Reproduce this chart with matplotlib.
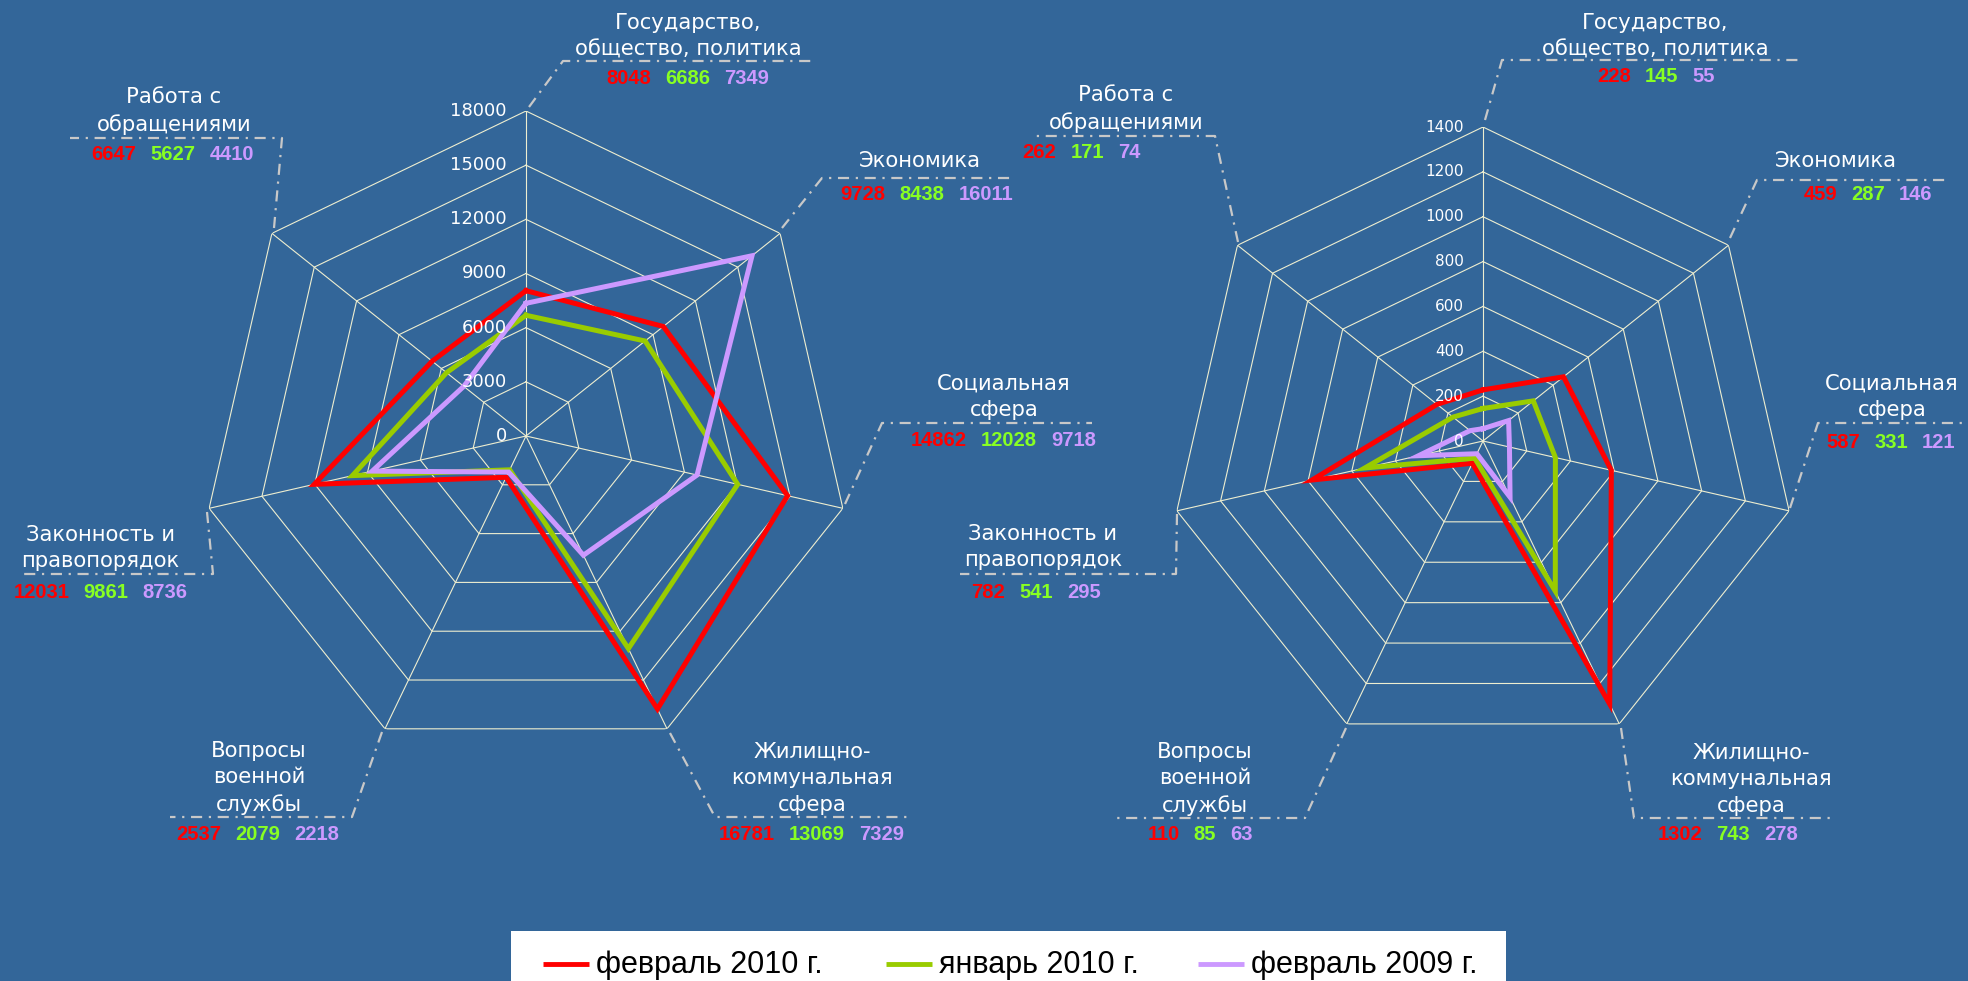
import numpy as np
import matplotlib.pyplot as plt

# Данные
categories = ['Государство,\nобщество, политика', 'Экономика', 'Социальная\nсфера',
              'Жилищно-\nкоммунальная\nсфера', 'Вопросы\nвоенной\nслужбы',
              'Законность и\nправопорядок', 'Работа с\nобращениями']
series_names = ['февраль 2010 г.', 'январь 2010 г.', 'февраль 2009 г.']

left_feb2010 = [8048, 9728, 14862, 16781, 2537, 12031, 6647]
left_jan2010 = [6686, 8438, 12028, 13069, 2079, 9861, 5627]
left_feb2009 = [7349, 16011, 9718, 7329, 2218, 8736, 4410]

right_feb2010 = [228, 459, 587, 1302, 110, 782, 262]
right_jan2010 = [145, 287, 331, 743, 85, 541, 171]
right_feb2009 = [55, 146, 121, 278, 63, 295, 74]

left_ticks = [0, 3000, 6000, 9000, 12000, 15000, 18000]
right_ticks = [0, 200, 400, 600, 800, 1000, 1200, 1400]

line_colors = ['#FF0000', '#99CC00', '#CC99FF']
value_colors = ['#FF0000', '#88FF22', '#CC99FF']
bg = '#336699'
grid_color = '#EEEED0'
W, H = 1968, 981

# Расположение подписей (пиксели): центр текста, центр значений, выноска
left_layout = [
    ((688, 36), (688, 78), [(529, 107), (563, 61), (813, 61)]),
    ((920, 161), (922, 195), [(782, 228), (822, 178), (1010, 178)]),
    ((1004, 397), (1009, 441), [(845, 504), (882, 423), (1092, 423)]),
    ((812, 778), (817, 835), [(670, 733), (715, 817), (907, 817)]),
    ((259, 778), (258, 835), [(382, 732), (352, 817), (170, 817)]),
    ((100, 548), (106, 593), [(207, 512), (213, 574), (20, 574)]),
    ((174, 111), (173, 155), [(274, 228), (282, 138), (70, 138)]),
]
right_layout = [
    ((1655, 36), (1662, 76), [(1485, 120), (1502, 60), (1801, 60)]),
    ((1836, 161), (1868, 194), [(1730, 238), (1757, 180), (1945, 180)]),
    ((1892, 397), (1891, 442), [(1790, 508), (1818, 423), (1968, 423)]),
    ((1751, 779), (1733, 834), [(1621, 728), (1634, 818), (1835, 818)]),
    ((1205, 779), (1205, 834), [(1346, 728), (1305, 818), (1117, 818)]),
    ((1043, 547), (1036, 592), [(1177, 514), (1176, 574), (960, 574)]),
    ((1126, 109), (1087, 153), [(1238, 242), (1215, 136), (1032, 136)]),
]
# легенда: начало линии каждого элемента
legend_x = [543, 886, 1198]

fig = plt.figure(figsize=(W / 100, H / 100), dpi=100)
fig.patch.set_facecolor(bg)

n = len(categories)
theta = np.arange(n) * 2 * np.pi / n
theta_closed = np.append(theta, theta[0])


def radar(center, radius, ticks, data, tick_size):
    cx, cy = center
    ax = fig.add_axes([(cx - radius) / W, (H - cy - radius) / H, 2 * radius / W, 2 * radius / H],
                      projection='polar')
    ax.set_theta_offset(np.pi / 2)
    ax.set_theta_direction(-1)
    ax.set_ylim(0, ticks[-1])
    ax.axis('off')
    # сетка
    for t in ticks[1:]:
        ax.plot(theta_closed, [t] * (n + 1), color=grid_color, lw=0.8, zorder=1)
    for a in theta:
        ax.plot([a, a], [0, ticks[-1]], color=grid_color, lw=0.8, zorder=1)
    for t in ticks:
        ax.annotate(str(t), xy=(0, t), xytext=(-19, 0), textcoords='offset pixels',
                    ha='right', va='center', color='white', fontsize=tick_size,
                    annotation_clip=False, zorder=5)
    for vals, c in zip(data, line_colors):
        ax.plot(theta_closed, list(vals) + [vals[0]], color=c, lw=3.6,
                solid_joinstyle='miter', zorder=3, clip_on=False)


left_data = [left_feb2010, left_jan2010, left_feb2009]
right_data = [right_feb2010, right_jan2010, right_feb2009]
radar((526, 436), 325, left_ticks, left_data, 13)
radar((1483, 441), 314, right_ticks, right_data, 11)

# Верхний слой для подписей
ov = fig.add_axes([0, 0, 1, 1])
ov.set_xlim(0, W)
ov.set_ylim(H, 0)
ov.axis('off')


def labels(layout, data):
    for i, (tpos, vpos, leader) in enumerate(layout):
        ov.text(tpos[0], tpos[1], categories[i], ha='center', va='center', color='white',
                fontsize=15.2, linespacing=1.42, family='DejaVu Sans')
        xs, ys = zip(*leader)
        ov.plot(xs, ys, color='#C8C8C8', lw=1.6, linestyle=(0, (5, 3, 1, 3)))
        vals = [d[i] for d in data]
        mid = ov.text(vpos[0], vpos[1], str(vals[1]), ha='center', va='center',
                      color=value_colors[1], fontsize=14.5, fontweight='bold',
                      family='Liberation Sans')
        ov.annotate(str(vals[0]), xy=(0, 0.5), xycoords=mid, xytext=(-14, 0),
                    textcoords='offset pixels', ha='right', va='center',
                    color=value_colors[0], fontsize=14.5, fontweight='bold',
                    family='Liberation Sans')
        ov.annotate(str(vals[2]), xy=(1, 0.5), xycoords=mid, xytext=(14, 0),
                    textcoords='offset pixels', ha='left', va='center',
                    color=value_colors[2], fontsize=14.5, fontweight='bold',
                    family='Liberation Sans')


labels(left_layout, left_data)
labels(right_layout, right_data)

# Легенда
ov.add_patch(plt.Rectangle((511, 931), 995, 60, facecolor='white', edgecolor='none', zorder=5))
for x0, name, c in zip(legend_x, series_names, line_colors):
    ov.plot([x0, x0 + 46], [964, 964], color=c, lw=3.5, zorder=6, solid_capstyle='butt')
    ov.text(x0 + 53, 965, name, ha='left', va='center', color='black', fontsize=22,
            family='Liberation Sans', zorder=6)

fig.savefig('out.png', dpi=100, facecolor=bg)
